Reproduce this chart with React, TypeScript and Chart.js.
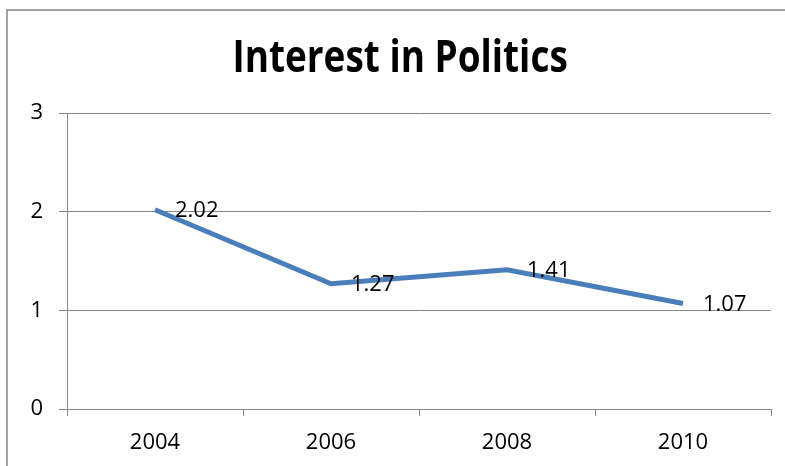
import React, { useEffect, useRef } from "react";
import { Chart, registerables } from "chart.js";

Chart.register(...registerables);

const titleText = "Interest in Politics";
const categories = ["2004", "2006", "2008", "2010"];
const seriesValues = [2.02, 1.27, 1.41, 1.07];
const valueLabels = ["2.02", "1.27", "1.41", "1.07"];
const yTicks = [0, 1, 2, 3];

const GRAY = "#868686";
const BLUE = "#4A7EBB";
const FONT = "'Open Sans', 'DejaVu Sans', sans-serif";

const framePlugin = {
  id: "frame",
  beforeDraw(chart: any) {
    const ctx = chart.ctx;
    ctx.save();
    ctx.fillStyle = "#ffffff";
    ctx.fillRect(0, 0, chart.width, chart.height);
    ctx.strokeStyle = GRAY;
    ctx.lineWidth = 1.5;
    ctx.strokeRect(7, 10, chart.width + 20, chart.height + 20);
    ctx.restore();
  },
  afterDraw(chart: any) {
    const ctx = chart.ctx;
    ctx.save();
    ctx.font = `bold 44px ${FONT}`;
    ctx.fillStyle = "#000000";
    ctx.textBaseline = "alphabetic";
    ctx.textAlign = "left";
    const m = ctx.measureText(titleText);
    const ink = m.actualBoundingBoxLeft + m.actualBoundingBoxRight;
    const targetW = 332;
    const sx = targetW / ink;
    const cx = 401;
    ctx.translate(cx - targetW / 2, 72);
    ctx.scale(sx, 1);
    ctx.fillText(titleText, m.actualBoundingBoxLeft, 0);
    ctx.restore();
  },
};

const labelPlugin = {
  id: "valueLabels",
  afterDatasetsDraw(chart: any) {
    const ctx = chart.ctx;
    const meta = chart.getDatasetMeta(0);
    ctx.save();
    ctx.font = `22px ${FONT}`;
    ctx.fillStyle = "#000000";
    ctx.textAlign = "left";
    ctx.textBaseline = "middle";
    meta.data.forEach((pt: any, i: number) => {
      ctx.fillText(valueLabels[i], pt.x + 20, pt.y + 1);
    });
    ctx.restore();
  },
};

export default function App() {
  const ref = useRef<HTMLCanvasElement>(null);
  useEffect(() => {
    if (!ref.current) return;
    const chart = new Chart(ref.current, {
      type: "line",
      data: {
        labels: categories,
        datasets: [
          {
            data: seriesValues,
            borderColor: BLUE,
            borderWidth: 5,
            pointRadius: 0,
            pointHoverRadius: 0,
            tension: 0,
            fill: false,
          },
        ],
      },
      options: {
        responsive: false,
        animation: false,
        events: [],
        layout: { padding: { top: 113, left: 0, right: 14, bottom: 0 } },
        plugins: {
          legend: { display: false },
          title: { display: false },
          tooltip: { enabled: false },
        },
        scales: {
          x: {
            offset: true,
            grid: {
              offset: true,
              drawOnChartArea: false,
              drawTicks: true,
              tickLength: 7,
              color: GRAY,
            },
            border: { display: true, color: GRAY },
            ticks: {
              color: "#000000",
              font: { family: FONT, size: 22 },
              padding: 14,
              maxRotation: 0,
            },
            afterFit: (s: any) => {
              s.height = 57;
            },
          },
          y: {
            min: 0,
            max: 3,
            afterBuildTicks: (s: any) => {
              s.ticks = yTicks.map((v) => ({ value: v }));
            },
            grid: { color: GRAY, tickLength: 8, drawTicks: true },
            border: { display: true, color: GRAY },
            ticks: {
              color: "#000000",
              font: { family: FONT, size: 22 },
              padding: 16,
            },
            afterFit: (s: any) => {
              s.width = 67;
            },
          },
        },
      },
      plugins: [framePlugin, labelPlugin],
    });
    return () => chart.destroy();
  }, []);
  return (
    <div style={{ position: "absolute", left: 0, top: 0, width: 785, height: 466 }}>
      <canvas ref={ref} width={785} height={466} style={{ display: "block" }} />
    </div>
  );
}
